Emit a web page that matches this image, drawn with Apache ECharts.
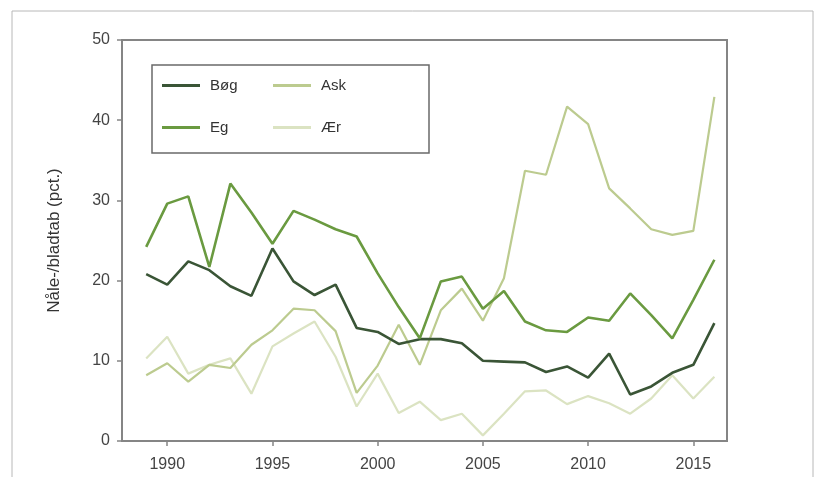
<!DOCTYPE html>
<html>
<head>
<meta charset="utf-8">
<script src="https://cdn.jsdelivr.net/npm/echarts@6/dist/echarts.min.js"></script>
<style>html,body{margin:0;padding:0;background:#fff}#c{width:815px;height:477px}</style>
</head>
<body>
<div id="c"></div>
<script>
const years = [1989,1990,1991,1992,1993,1994,1995,1996,1997,1998,1999,2000,2001,2002,2003,2004,2005,2006,2007,2008,2009,2010,2011,2012,2013,2014,2015,2016];
const bog = [20.8,19.5,22.4,21.3,19.3,18.1,24.0,19.9,18.2,19.5,14.1,13.6,12.1,12.7,12.7,12.2,10.0,9.9,9.8,8.6,9.3,7.9,10.9,5.8,6.8,8.5,9.5,14.7];
const eg = [24.2,29.6,30.5,21.7,32.1,28.5,24.6,28.7,27.6,26.4,25.5,20.9,16.7,12.8,19.9,20.5,16.5,18.7,14.9,13.8,13.6,15.4,15.0,18.4,15.7,12.8,17.6,22.6];
const ask = [8.2,9.7,7.4,9.5,9.1,12.0,13.8,16.5,16.3,13.7,6.0,9.4,14.5,9.5,16.3,19.0,15.0,20.3,33.7,33.2,41.7,39.5,31.5,29.0,26.4,25.7,26.2,42.9];
const aer = [10.3,13.0,8.4,9.5,10.3,5.9,11.8,13.4,14.9,10.5,4.3,8.4,3.5,4.9,2.6,3.4,0.7,3.4,6.2,6.3,4.6,5.6,4.7,3.4,5.3,8.2,5.3,8.0];
const xTicks = [1990,1995,2000,2005,2010,2015];
const yName = 'Nåle-/bladtab (pct.)';
const legendCol1 = ['Bøg','Eg'];
const legendCol2 = ['Ask','Ær'];

const colors = {'Bøg':'#3a5536','Eg':'#6a9a40','Ask':'#bccb8f','Ær':'#dbe3c2'};
const widths = {'Bøg':2.6,'Eg':2.6,'Ask':2.2,'Ær':2.2};
const dataMap = {'Bøg':bog,'Eg':eg,'Ask':ask,'Ær':aer};

const chart = echarts.init(document.getElementById('c'), null, {renderer:'canvas'});
const font = 'Liberation Sans, Arial, sans-serif';
const legendBase = {
  orient:'vertical', top:78, padding:0,
  icon:'rect', itemWidth:38, itemHeight:3, itemGap:27,
  formatter:'{a|{name}}',
  textStyle:{fontFamily:font, fontSize:15, color:'#333',
    rich:{a:{fontFamily:font, fontSize:15, color:'#333', padding:[0,0,0,5]}}}
};
chart.setOption({
  animation:false,
  backgroundColor:'#fff',
  graphic:[
    {type:'rect', shape:{x:12,y:11,width:801,height:600}, style:{fill:'none', stroke:'#b8b8b8', lineWidth:1}, silent:true, z:-1},
    {type:'rect', shape:{x:152,y:65,width:277,height:88}, style:{fill:'#fff', stroke:'#6a6a6a', lineWidth:1.5}, silent:true, z:10}
  ],
  grid:{left:122, top:40, right:88, bottom:36, show:true, borderColor:'#858585', borderWidth:2, backgroundColor:'transparent'},
  legend:[
    Object.assign({}, legendBase, {left:162, data:legendCol1, z:20}),
    Object.assign({}, legendBase, {left:273, data:legendCol2, z:20})
  ],
  xAxis:{
    type:'value', min:1987.85, max:2016.6,
    splitLine:{show:false},
    axisLine:{show:true, lineStyle:{color:'#858585', width:2}},
    axisTick:{show:true, length:5, lineStyle:{color:'#858585', width:1.5}, customValues:xTicks},
    axisLabel:{fontFamily:font, fontSize:16, color:'#444', margin:16, customValues:xTicks, formatter:v=>String(v)}
  },
  yAxis:{
    type:'value', min:0, max:50, interval:10,
    name:yName, nameLocation:'middle', nameGap:59,
    nameTextStyle:{fontFamily:font, fontSize:17, color:'#333'},
    splitLine:{show:false},
    axisLine:{show:true, lineStyle:{color:'#858585', width:2}},
    axisTick:{show:true, length:5, lineStyle:{color:'#858585', width:1.5}},
    axisLabel:{fontFamily:font, fontSize:16, color:'#444', margin:12}
  },
  series:['Ær','Ask','Bøg','Eg'].map(n=>({
    name:n, type:'line', symbol:'none', showSymbol:false,
    data:years.map((y,i)=>[y,dataMap[n][i]]),
    lineStyle:{color:colors[n], width:widths[n]},
    itemStyle:{color:colors[n]},
    z: n==='Eg'?5:(n==='Bøg'?4:3)
  }))
});
</script>
</body>
</html>
